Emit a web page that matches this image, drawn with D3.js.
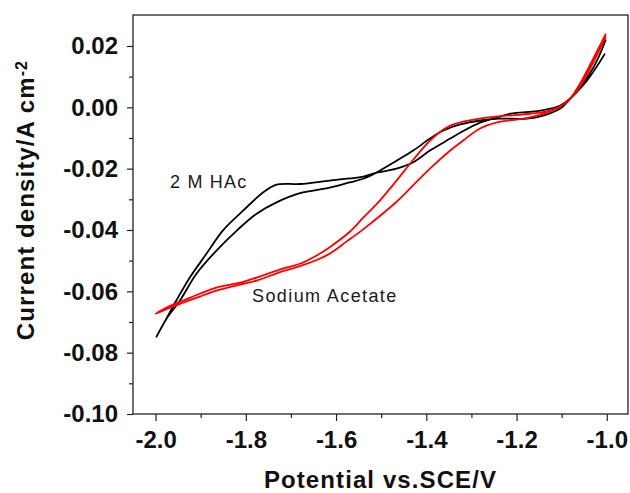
<!DOCTYPE html>
<html>
<head>
<meta charset="utf-8">
<script src="https://cdn.jsdelivr.net/npm/d3@7"></script>
<style>
  body { margin: 0; background: #fff; }
  svg text { font-family: "Liberation Sans", Arial, sans-serif; }
</style>
</head>
<body>
<svg id="cv" width="630" height="493"></svg>
<script>
// potential (V vs SCE), current density (A cm-2)
// 2 M HAc, two branches of the sweep
var hacOuter = [[-1.002,0.0221],[-1.030,0.0129],[-1.075,0.0038],[-1.103,0.0006],[-1.148,-0.0011],
  [-1.214,-0.0021],[-1.252,-0.0037],[-1.281,-0.0050],[-1.325,-0.0083],[-1.347,-0.0102],
  [-1.392,-0.0141],[-1.429,-0.0179],[-1.466,-0.0200],[-1.518,-0.0216],[-1.540,-0.0226],
  [-1.570,-0.0232],[-1.614,-0.0239],[-1.680,-0.0250],[-1.732,-0.0252],[-1.762,-0.0278],
  [-1.806,-0.0337],[-1.851,-0.0402],[-1.887,-0.0477],[-1.924,-0.0555],[-1.954,-0.0630],
  [-1.976,-0.0689],[-1.998,-0.0748]];
var hacInner = [[-1.998,-0.0748],[-1.976,-0.0690],[-1.946,-0.0630],[-1.909,-0.0542],[-1.865,-0.0467],
  [-1.820,-0.0402],[-1.776,-0.0347],[-1.732,-0.0310],[-1.680,-0.0280],[-1.614,-0.0262],
  [-1.570,-0.0245],[-1.540,-0.0233],[-1.525,-0.0224],[-1.466,-0.0174],[-1.429,-0.0141],
  [-1.392,-0.0102],[-1.363,-0.0076],[-1.325,-0.0056],[-1.281,-0.0043],[-1.238,-0.0037],
  [-1.177,-0.0037],[-1.141,-0.0027],[-1.103,-0.0004],[-1.081,0.0028],[-1.044,0.0087],
  [-1.004,0.0175]];
// sodium acetate
var naacUpper = [[-1.002,0.0240],[-1.030,0.0159],[-1.066,0.0061],[-1.089,0.0016],[-1.126,-0.0011],
  [-1.170,-0.0021],[-1.243,-0.0030],[-1.319,-0.0047],[-1.355,-0.0066],[-1.392,-0.0109],
  [-1.429,-0.0171],[-1.466,-0.0239],[-1.503,-0.0304],[-1.540,-0.0360],[-1.569,-0.0405],
  [-1.614,-0.0456],[-1.643,-0.0483],[-1.680,-0.0510],[-1.718,-0.0526],[-1.776,-0.0555],
  [-1.813,-0.0572],[-1.865,-0.0588],[-1.902,-0.0608],[-1.939,-0.0630],[-1.968,-0.0647],
  [-2.000,-0.0673]];
var naacLower = [[-2.000,-0.0673],[-1.968,-0.0653],[-1.939,-0.0637],[-1.902,-0.0617],[-1.865,-0.0598],
  [-1.813,-0.0578],[-1.776,-0.0565],[-1.718,-0.0534],[-1.680,-0.0518],[-1.643,-0.0498],
  [-1.614,-0.0477],[-1.577,-0.0438],[-1.540,-0.0398],[-1.466,-0.0308],[-1.429,-0.0254],
  [-1.392,-0.0200],[-1.347,-0.0141],[-1.319,-0.0109],[-1.281,-0.0069],[-1.243,-0.0049],
  [-1.170,-0.0033],[-1.103,0.0002],[-1.066,0.0054],[-1.030,0.0146],[-1.002,0.0231]];

var xTicks = [-2.0, -1.8, -1.6, -1.4, -1.2, -1.0];
var yTicks = [0.02, 0.00, -0.02, -0.04, -0.06, -0.08, -0.10];
var xMinor = [-1.9, -1.7, -1.5, -1.3, -1.1];
var yMinor = [0.01, -0.01, -0.03, -0.05, -0.07, -0.09];

var svg = d3.select("#cv");
var mLeft = 133, mTop = 15, mRight = 628, mBottom = 414;

var x = d3.scaleLinear().domain([-2.05, -0.953]).range([mLeft, mRight]);
var y = d3.scaleLinear().domain([-0.10, 0.0301]).range([mBottom, mTop]);

// minor ticks
svg.append("g").attr("transform", "translate(0," + mBottom + ")")
  .call(d3.axisBottom(x).tickValues(xMinor).tickSize(4).tickSizeOuter(0).tickFormat(""))
  .call(g => g.select(".domain").remove())
  .call(g => g.selectAll("text").remove());
svg.append("g").attr("transform", "translate(" + mLeft + ",0)")
  .call(d3.axisLeft(y).tickValues(yMinor).tickSize(4).tickSizeOuter(0).tickFormat(""))
  .call(g => g.select(".domain").remove())
  .call(g => g.selectAll("text").remove());

var fmtX = d => d3.format(".1f")(d).replace("−", "-");
var fmtY = d => d3.format(".2f")(d).replace("−", "-");

var xAxis = svg.append("g").attr("transform", "translate(0," + mBottom + ")")
  .call(d3.axisBottom(x).tickValues(xTicks).tickSize(7).tickSizeOuter(0).tickPadding(10).tickFormat(fmtX));
var yAxis = svg.append("g").attr("transform", "translate(" + mLeft + ",0)")
  .call(d3.axisLeft(y).tickValues(yTicks).tickSize(6).tickSizeOuter(0).tickPadding(9).tickFormat(fmtY));

svg.selectAll(".domain").remove();
svg.selectAll(".tick line").attr("stroke", "#222").attr("stroke-width", 1.2);
[xAxis, yAxis].forEach(a => a.selectAll(".tick text")
  .attr("font-family", "Liberation Sans, Arial, sans-serif")
  .attr("font-size", 24).attr("font-weight", "bold").attr("fill", "#111"));
yAxis.selectAll(".tick text").attr("dy", "0.33em");

// frame
svg.append("rect")
  .attr("x", mLeft).attr("y", mTop)
  .attr("width", mRight - mLeft).attr("height", mBottom - mTop)
  .attr("fill", "none").attr("stroke", "#222").attr("stroke-width", 1.3);

var line = d3.line()
  .x(d => x(d[0])).y(d => y(d[1]))
  .curve(d3.curveCatmullRom.alpha(0.5));

svg.append("path").datum(hacOuter.concat(hacInner.slice(1)))
  .attr("d", line).attr("fill", "none").attr("stroke", "#000").attr("stroke-width", 1.8);
svg.append("path").datum(naacUpper.concat(naacLower.slice(1)))
  .attr("d", line).attr("fill", "none").attr("stroke", "#ff0000").attr("stroke-width", 1.8);

// labels
svg.append("text").attr("x", 170).attr("y", 188)
  .attr("font-size", 18).attr("letter-spacing", "1.2px").attr("fill", "#1a1a1a")
  .text("2 M HAc");
svg.append("text").attr("x", 252).attr("y", 302)
  .attr("font-size", 18).attr("letter-spacing", "1.4px").attr("fill", "#1a1a1a")
  .text("Sodium Acetate");

svg.append("text").attr("x", (mLeft + mRight) / 2).attr("y", 488)
  .attr("text-anchor", "middle").attr("font-size", 24).attr("letter-spacing", "1.1px")
  .attr("font-weight", "bold").attr("fill", "#111")
  .text("Potential vs.SCE/V");

var yt = svg.append("text")
  .attr("transform", "translate(34,200) rotate(-90)")
  .attr("text-anchor", "middle").attr("font-size", 24).attr("letter-spacing", "1.1px")
  .attr("font-weight", "bold").attr("fill", "#111");
yt.append("tspan").text("Current density/A cm");
yt.append("tspan").attr("dy", "-0.45em").attr("font-size", 16).text("-2");
</script>
</body>
</html>
